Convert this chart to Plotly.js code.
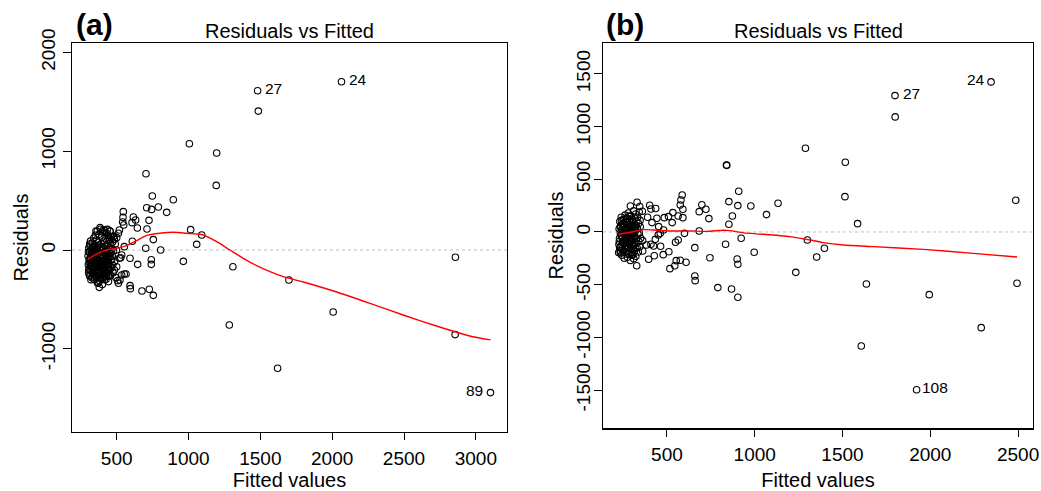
<!DOCTYPE html>
<html>
<head>
<meta charset="utf-8">
<script src="https://cdn.plot.ly/plotly-3.0.1.min.js"></script>
<style>html,body{margin:0;padding:0;background:#fff;}#chart{width:1041px;height:491px;}</style>
</head>
<body>
<div id="chart"></div>
<script>
// ---------- Panel (a) ----------
var fittedA = [
 1481,1486,2065,1006,1196,1193,704,748,894,790,848,709,743,725,711,755,702,1015,1092,1057,806,964,1309,1699,1284,2007,1620,2858,2856,3102,
 741,741,646,593,727,676,755,593,595,546,544,542,549,616,632,607,644,609,553,519,512,528,535,519,553,535,565,523,512,507,500,484,472,447,426,379,368,465,458,484,500,477,447,436,384,356,407,453,
 301,303,305,306,308,310,312,313,315,317,318,320,322,323,325,327,328,330,332,333,335,337,338,340,342,343,345,347,348,350,352,353,355,357,358,360,362,363,365,367,368,370,372,373,375,377,378,380,382,383,385,387,388,390,392,393,395,397,398,400,402,403,405,407,408,410,412,413,415,417,418,420,422,423,425,427,428,430,432,433,435,437,438,440,442,443,445,447,448,450,452,455,457,458,460,462,465,467,470,472,475,478,480,485,490,495,498,
 304,306,309,311,314,316,319,321,324,326,329,331,334,336,339,341,344,346,349,351,354,356,359,361,364,366,369,371,374,376,379,381,384,386,389,391,394,396,399,401,404,406,409,411,414,416,419,421,424,426,429,431,434,436,439,441,444,446
];
var residA = [
 1612,1406,1703,1076,981,654,772,546,509,435,381,428,411,300,212,105,17,206,152,57,0,-115,-169,-303,-759,-627,-1197,-74,-856,-1443,
 -98,-145,-145,-84,-398,-415,-459,-361,-391,388,330,283,253,334,303,277,223,88,34,202,169,-78,-51,-84,-243,-253,-243,-303,-337,-310,-169,-202,-152,-256,-297,-378,-337,-101,-67,108,125,135,128,209,226,192,202,192,
 -60,-150,-230,20,-100,-190,60,-20,-260,-130,90,-70,-210,10,-160,-40,-280,70,-110,-200,30,-240,-80,120,-170,-10,-300,50,-130,-220,150,-50,-180,100,-270,-90,0,-150,190,-240,40,-120,-330,80,-200,-30,160,-260,-80,20,-170,210,-110,-290,60,-40,-220,130,-150,-350,10,-190,180,-70,-250,90,-130,-20,-300,200,-100,40,-210,-160,120,-50,-270,170,-120,0,-230,60,-180,-80,150,-320,20,-140,100,-200,-30,190,-260,50,-100,130,-180,10,-60,80,-230,-10,140,-120,60,-280,0,
 -20,-200,-130,-260,40,-80,-170,-300,-50,-120,-230,0,-150,-270,-60,-190,30,-110,-250,-20,-140,-210,10,-280,-100,-170,-40,-230,50,-130,-200,-310,-60,-150,-240,-10,-180,-90,-280,-140,30,-220,-60,-170,-270,-110,-20,-190,-80,-240,-150,40,-110,-200,-30,-260,-160,-70
];
var smoothXA = [301,361,430,500,570,639,709,801,894,987,1103,1196,1288,1381,1474,1567,1660,1799,2031,2263,2494,2726,2958,3102];
var smoothYA = [-94,-40,0,17,44,94,148,169,179,169,152,84,0,-84,-158,-219,-270,-324,-425,-540,-658,-769,-870,-910];
var idXA = [1481,2065,3102];
var idYA = [1612,1703,-1443];
var idTextA = ["27","24","89"];
var idShiftA = [16,16,-16];

// ---------- Panel (b) ----------
var fittedB = [
 1799,1800,2346,1289,1516,1514,839,841,909,853,904,978,1133,1067,873,853,1586,2487,923,1300,1397,1353,997,834,900,904,1234,1636,2494,1994,2290,1607,1922,790,868,904,659,661,659,745,684,739,684,699,722,587,580,576,591,564,591,534,509,530,485,600,609,576,553,545,517,511,549,564,479,464,428,424,434,396,362,362,383,409,328,311,305,322,225,292,330,345,360,402,409,436,390,415,443,453,481,462,451,
 227,228,230,232,233,235,237,238,240,242,243,245,247,248,250,252,253,255,257,258,260,262,263,265,267,268,270,272,273,275,277,278,280,282,283,285,287,288,290,292,293,295,297,298,300,302,303,305,307,308,310,312,313,315,317,318,320,322,323,325,327,328,330,332,333,335,337,338,340,342,343,345,347,348,350,
 229,231,234,236,239,241,244,246,249,251,254,256,259,261,264,266,269,271,274,276,279,281,284,286,289,291,294,296,299,301,304,306,309,311,314,316,319,321
];
var residB = [
 1294,1092,1424,794,661,335,636,632,386,288,250,247,272,165,152,73,79,301,-60,-76,-155,-237,-193,-117,-256,-307,-383,-494,-487,-595,-908,-1082,-1497,-528,-541,-620,-418,-462,-149,-244,9,127,193,259,215,351,304,256,215,152,136,184,146,89,136,-13,-288,-269,-272,-320,-348,-187,-98,-76,-215,-136,-225,-133,-70,-259,-180,-82,-123,-117,-320,-253,-218,-155,-196,247,282,241,196,253,218,222,139,89,130,51,19,-13,-28,
 -120,30,-60,100,-180,-10,60,-140,140,-40,-220,20,-100,80,-170,0,120,-80,-250,50,-130,160,-30,-190,90,-60,10,-150,130,-240,40,-90,180,-10,-200,70,-120,110,-50,-270,20,150,-160,60,-80,120,-210,0,90,-130,200,-40,40,-180,130,-100,10,170,-230,60,-60,100,-150,30,140,-20,-190,80,-90,190,-10,-140,110,50,-60,
 -90,-150,50,-200,-30,110,-120,-60,40,-190,-110,70,-20,-160,30,-100,130,-210,-50,90,-140,0,-80,150,-180,-30,60,-110,-220,20,-70,100,-160,-10,70,-120,-50,40
];
var smoothXB = [227,292,367,443,538,633,727,822,860,936,1050,1201,1315,1391,1505,1675,1960,2244,2494];
var smoothYB = [-22,-3,22,16,9,9,6,16,13,-9,-22,-44,-76,-101,-123,-139,-165,-203,-237];
var idXB = [1799,2346,1922];
var idYB = [1294,1424,-1497];
var idTextB = ["27","24","108"];
var idShiftB = [17,-15,18];

var FONT = "Liberation Sans, Arial, Helvetica, sans-serif";
var markerStyle = {symbol:"circle-open", size:6.5, color:"#000", line:{width:1.1, color:"#000"}};

var traces = [
 {type:"scatter", mode:"markers", x:fittedA, y:residA, xaxis:"x", yaxis:"y", marker:markerStyle, hoverinfo:"x+y"},
 {type:"scatter", mode:"lines", x:smoothXA, y:smoothYA, xaxis:"x", yaxis:"y", line:{color:"#ff0000", width:1.4, shape:"spline", smoothing:0.6}},
 {type:"scatter", mode:"markers", x:fittedB, y:residB, xaxis:"x2", yaxis:"y2", marker:markerStyle, hoverinfo:"x+y"},
 {type:"scatter", mode:"lines", x:smoothXB, y:smoothYB, xaxis:"x2", yaxis:"y2", line:{color:"#ff0000", width:1.4, shape:"spline", smoothing:0.6}}
];

function xax(domain, range, ticks, anchor) {
  return {domain:domain, range:range, anchor:anchor, tickvals:ticks, ticktext:ticks.map(String),
    ticks:"outside", ticklen:7, tickwidth:1, tickcolor:"#000", ticklabelstandoff:2,
    showline:true, mirror:true, linecolor:"#000", linewidth:1.2,
    showgrid:false, zeroline:false, tickfont:{family:FONT, size:19, color:"#000"},
    title:{text:"Fitted values", font:{family:FONT, size:20, color:"#000"}, standoff:8}};
}
function yax(domain, range, ticks, anchor, lblOff) {
  return {domain:domain, range:range, anchor:anchor, tickvals:ticks, ticktext:ticks.map(String),
    ticks:"outside", ticklen:8, tickwidth:1, tickcolor:"#000", tickangle:-90, ticklabelstandoff:lblOff,
    showline:true, mirror:true, linecolor:"#000", linewidth:1.2,
    showgrid:false, zeroline:false, tickfont:{family:FONT, size:19, color:"#000"},
    title:{text:"Residuals", font:{family:FONT, size:20, color:"#000"}, standoff:4}};
}

var annotations = [
 {text:"<b>(a)</b>", xref:"paper", yref:"paper", x:74/1041, y:1-24/491, xanchor:"left", yanchor:"middle", showarrow:false, font:{family:FONT, size:30, color:"#000"}},
 {text:"<b>(b)</b>", xref:"paper", yref:"paper", x:604/1041, y:1-24/491, xanchor:"left", yanchor:"middle", showarrow:false, font:{family:FONT, size:30, color:"#000"}},
 {text:"Residuals vs Fitted", xref:"paper", yref:"paper", x:289.5/1041, y:1-31/491, xanchor:"center", yanchor:"middle", showarrow:false, font:{family:FONT, size:20, color:"#000"}},
 {text:"Residuals vs Fitted", xref:"paper", yref:"paper", x:818/1041, y:1-31/491, xanchor:"center", yanchor:"middle", showarrow:false, font:{family:FONT, size:20, color:"#000"}}
];
for (var i = 0; i < idTextA.length; i++) {
  annotations.push({text:idTextA[i], xref:"x", yref:"y", x:idXA[i], y:idYA[i], xshift:idShiftA[i], yshift:2, showarrow:false, font:{family:FONT, size:15.5, color:"#000"}});
}
for (var j = 0; j < idTextB.length; j++) {
  annotations.push({text:idTextB[j], xref:"x2", yref:"y2", x:idXB[j], y:idYB[j], xshift:idShiftB[j], yshift:2, showarrow:false, font:{family:FONT, size:15.5, color:"#000"}});
}

var shapes = [
 {type:"line", xref:"x domain", yref:"y", x0:0, x1:1, y0:0, y1:0, line:{color:"#bebebe", width:1, dash:"dot"}, layer:"below"},
 {type:"line", xref:"x2 domain", yref:"y2", x0:0, x1:1, y0:0, y1:0, line:{color:"#bebebe", width:1, dash:"dot"}, layer:"below"}
];

var layout = {
  width:1041, height:491, margin:{l:0, r:0, t:0, b:0},
  paper_bgcolor:"#fff", plot_bgcolor:"#fff", showlegend:false,
  font:{family:FONT, color:"#000"},
  xaxis: xax([72/1041, 507/1041], [189, 3217], [500,1000,1500,2000,2500,3000], "y"),
  yaxis: yax([1-432/491, 1-43/491], [-1842, 2095], [-1000,0,1000,2000], "x", 0),
  xaxis2: xax([603/1041, 1033/1041], [136, 2585], [500,1000,1500,2000,2500], "y2"),
  yaxis2: yax([1-428.3/491, 1-42.7/491], [-1863, 1796], [-1500,-1000,-500,0,500,1000,1500], "x2", -4),
  annotations: annotations, shapes: shapes
};

Plotly.newPlot("chart", traces, layout, {displayModeBar:false, staticPlot:true});
</script>
</body>
</html>
